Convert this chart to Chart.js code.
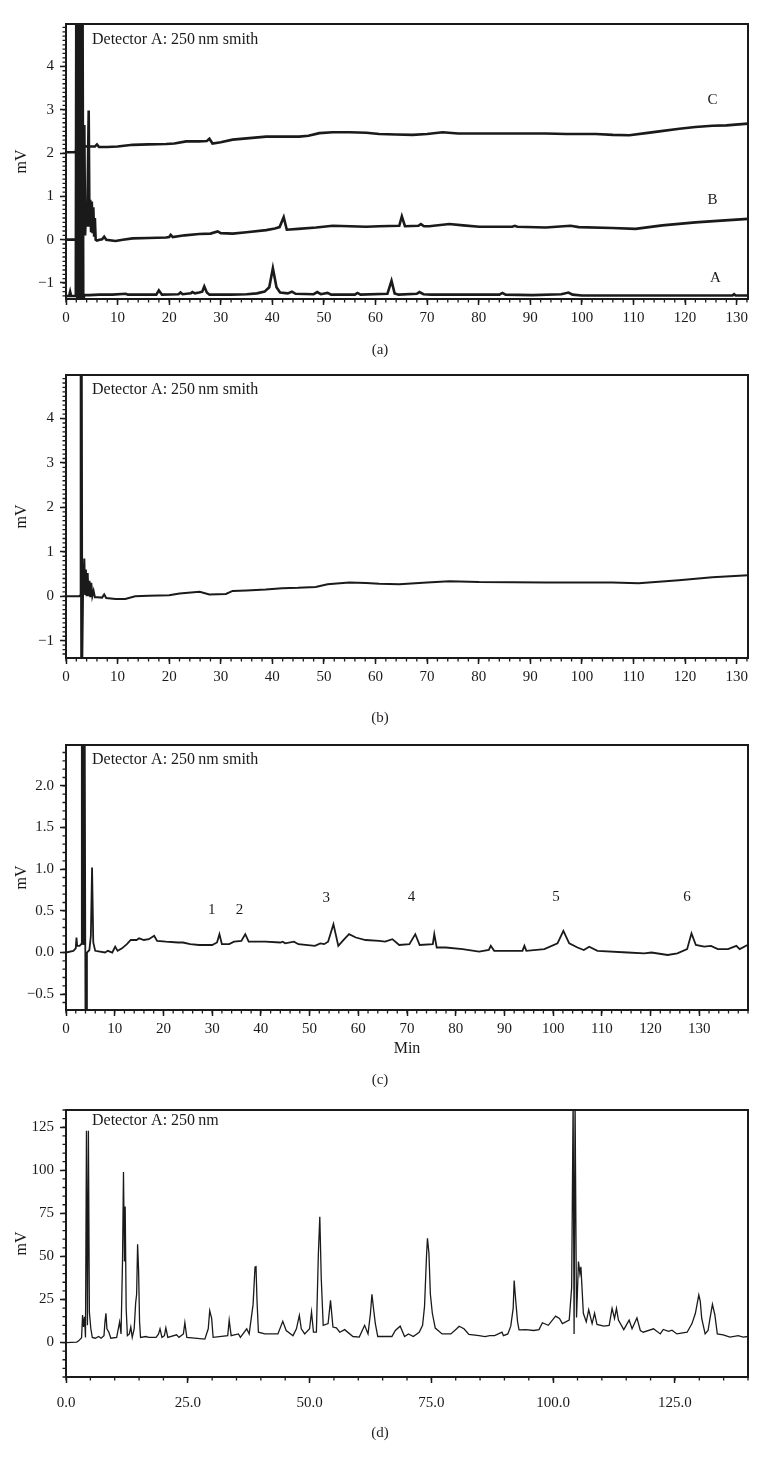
<!DOCTYPE html>
<html>
<head>
<meta charset="utf-8">
<script src="https://cdn.jsdelivr.net/npm/chart.js@4.4.0/dist/chart.umd.min.js"></script>
<style>
  body { margin: 0; background: #fff; width: 760px; height: 1467px; position: relative; overflow: hidden; }
  canvas { position: absolute; left: 0; }
  .panel-label { position: absolute; left: 0; width: 760px; text-align: center; font: 15px 'Liberation Serif', serif; color: #231f20; will-change: transform; }
</style>
</head>
<body>
<canvas id="chartA" width="760" height="335" style="top:0px"></canvas>
<canvas id="chartB" width="760" height="334" style="top:360px"></canvas>
<canvas id="chartC" width="760" height="330" style="top:730px"></canvas>
<canvas id="chartD" width="760" height="322" style="top:1095px"></canvas>
<div class="panel-label" style="top:341px">(a)</div>
<div class="panel-label" style="top:709px">(b)</div>
<div class="panel-label" style="top:1071px">(c)</div>
<div class="panel-label" style="top:1424px">(d)</div>
<script>
// retention time (min), signal (mV) pairs

// panel (a): three stacked runs
const traceA = [[0,-1.3],[0.6,-1.3],[0.8,-1.2],[1.0,-1.3],[1.9,-1.3],[2.0,6],[2.2,-1.5],[2.4,6],[2.6,-1.5],[2.8,6],[3.0,-1.5],[3.2,6],[3.35,-1.5],[3.5,-1.28],[4.5,-1.28],[6.5,-1.27],[9,-1.27],[11.6,-1.25],[12,-1.27],[17.5,-1.27],[18,-1.17],[18.6,-1.27],[21.8,-1.26],[22.2,-1.22],[22.6,-1.26],[24.2,-1.24],[24.5,-1.21],[25,-1.24],[25.8,-1.22],[26.4,-1.2],[26.8,-1.08],[27.3,-1.22],[27.8,-1.27],[32,-1.27],[35,-1.26],[37,-1.24],[38.5,-1.2],[39.4,-1.1],[40.1,-0.66],[40.8,-1.1],[41.5,-1.22],[43,-1.24],[43.8,-1.2],[44.5,-1.25],[48,-1.26],[48.7,-1.21],[49.4,-1.26],[50.7,-1.23],[51.4,-1.27],[56,-1.27],[56.5,-1.23],[57.1,-1.27],[62.3,-1.25],[63.1,-0.95],[63.7,-1.24],[64.5,-1.27],[68,-1.25],[68.5,-1.21],[69.3,-1.26],[70.8,-1.27],[84,-1.27],[84.6,-1.23],[85.2,-1.27],[90.4,-1.28],[96,-1.26],[97.4,-1.22],[98.2,-1.27],[100,-1.29],[106,-1.29],[115,-1.29],[125,-1.29],[129.2,-1.29],[129.5,-1.26],[129.8,-1.29],[132.2,-1.29]];
const traceB = [[0,0.0],[2.3,0.0],[2.5,0.02],[3.05,-0.9],[3.3,0.3],[3.55,2.65],[3.7,0.1],[3.9,0.75],[4.1,0.3],[4.4,2.98],[4.55,0.3],[4.7,0.92],[4.85,0.2],[5.0,0.88],[5.15,0.15],[5.3,0.75],[5.45,0.1],[5.6,0.5],[5.75,0.0],[6.0,-0.02],[6.5,0.0],[7.0,0.01],[7.4,0.07],[7.8,0.0],[9.6,-0.03],[11,0.0],[12.9,0.03],[16,0.04],[19.4,0.05],[20.0,0.06],[20.3,0.11],[20.7,0.06],[23,0.1],[25.8,0.13],[28,0.14],[29.4,0.19],[30,0.15],[32.3,0.14],[35,0.17],[38.8,0.22],[40.5,0.26],[41.4,0.29],[42.2,0.52],[42.8,0.23],[45,0.25],[48.5,0.28],[51.7,0.32],[55,0.31],[58.2,0.3],[60.7,0.31],[64.6,0.32],[65.1,0.54],[65.7,0.31],[68.3,0.32],[68.8,0.36],[69.4,0.31],[70.4,0.31],[74.3,0.36],[77,0.33],[80.1,0.3],[86.5,0.3],[87,0.32],[87.5,0.3],[93,0.28],[97.8,0.32],[99.4,0.29],[105.9,0.27],[110.4,0.25],[115.6,0.33],[122,0.4],[127,0.44],[132.2,0.48]];
const traceC = [[0,2.02],[1.9,2.02],[2.05,2.15],[3.0,2.18],[4.0,2.15],[5.0,2.15],[5.6,2.15],[6.0,2.2],[6.4,2.14],[8,2.14],[10,2.15],[12.9,2.19],[16,2.2],[19.4,2.21],[21,2.22],[23.3,2.27],[25.8,2.27],[27.3,2.28],[27.8,2.33],[28.4,2.22],[30,2.25],[32.3,2.31],[35,2.34],[38.8,2.38],[42,2.38],[45.2,2.38],[47,2.4],[49.1,2.46],[51.7,2.48],[55,2.48],[58.2,2.47],[60.7,2.44],[64,2.43],[67.2,2.42],[70,2.44],[73,2.48],[76,2.45],[80,2.45],[85,2.45],[90,2.45],[93,2.45],[97,2.44],[102.7,2.44],[106,2.42],[109.2,2.41],[112.4,2.46],[115,2.5],[118.9,2.56],[122,2.6],[125.3,2.63],[128,2.64],[132.2,2.68]];

// panel (b): blank run
const traceBlank = [[0,0],[2.6,0],[2.75,0.02],[2.85,5.5],[2.95,-1.5],[3.05,5.5],[3.15,-1.5],[3.3,0.1],[3.55,0.85],[3.7,0.05],[3.85,0.6],[4.0,0.0],[4.2,0.52],[4.35,0.0],[4.55,0.35],[4.7,-0.02],[4.9,0.3],[5.1,0.0],[5.35,0.12],[5.6,-0.02],[6.0,-0.02],[7.0,-0.03],[7.4,0.04],[7.8,-0.04],[9.6,-0.06],[11.5,-0.06],[13.4,0.0],[16,0.01],[20,0.02],[22,0.06],[25.9,0.1],[27.8,0.04],[31,0.05],[32.3,0.12],[35,0.13],[38.7,0.15],[41.9,0.18],[45,0.19],[48.4,0.21],[50.7,0.27],[54.9,0.31],[58.2,0.3],[60.7,0.28],[64.6,0.27],[70,0.31],[74.3,0.34],[80.1,0.32],[93,0.31],[99.4,0.31],[105.9,0.31],[111,0.29],[118.8,0.36],[125.3,0.43],[132.2,0.47]];

// panel (c): sample with peaks 1-6
const traceSample = [[0,0.0],[1.5,0.02],[2.0,0.05],[2.15,0.18],[2.3,0.08],[2.8,0.08],[3.1,0.1],[3.25,2.6],[3.4,0.1],[3.55,2.6],[3.7,0.1],[3.85,2.6],[4.0,-0.8],[4.2,-0.8],[4.3,0.0],[4.8,0.03],[5.1,0.2],[5.35,1.02],[5.6,0.12],[6.0,0.02],[8,0.0],[8.6,0.02],[9.5,0.0],[10.1,0.07],[10.6,0.02],[11.5,0.05],[12.5,0.1],[13.3,0.15],[14.5,0.15],[15,0.17],[16,0.15],[17,0.16],[18.1,0.2],[18.7,0.14],[20.5,0.13],[23,0.12],[24,0.12],[25.5,0.1],[27.3,0.09],[30,0.09],[31.0,0.12],[31.5,0.22],[32.0,0.1],[33.5,0.1],[34.5,0.13],[36.0,0.14],[36.8,0.22],[37.5,0.13],[40.9,0.13],[44,0.12],[44.5,0.13],[45,0.11],[46.8,0.13],[47.7,0.1],[51.1,0.08],[52.2,0.11],[53.0,0.1],[53.8,0.13],[54.9,0.34],[55.9,0.08],[56.8,0.14],[58.1,0.22],[59.5,0.18],[61.5,0.15],[64.3,0.14],[65.5,0.13],[67.0,0.16],[68.4,0.09],[70.5,0.1],[71.7,0.22],[72.6,0.09],[75.3,0.1],[75.6,0.22],[76.1,0.06],[78,0.06],[81.4,0.04],[84.8,0.01],[86.8,0.03],[87.2,0.08],[87.9,0.02],[93.7,0.02],[94.1,0.08],[94.5,0.02],[98.2,0.04],[100.9,0.11],[102.1,0.26],[103.3,0.11],[105,0.06],[106.3,0.03],[107.4,0.07],[109.1,0.02],[115.3,0.0],[118.7,-0.01],[120.2,0.0],[123.5,-0.03],[125.5,-0.01],[127.5,0.04],[128.4,0.23],[129.3,0.09],[131,0.07],[132.4,0.08],[133.8,0.04],[135.9,0.04],[137.6,0.08],[138.3,0.04],[139.9,0.09]];
const peakNames = ['1','2','3','4','5','6'];
const peakLabelX = [29.9, 35.6, 53.4, 70.9, 100.6, 127.5];
const peakLabelY = [0.51, 0.51, 0.65, 0.66, 0.66, 0.66];

// panel (d): reference extract
const traceExtract = [[0,0],[2.2,0.3],[2.6,1],[3.2,2.8],[3.4,16],[3.6,9],[3.8,15],[4.0,3],[4.2,123],[4.4,10],[4.6,123],[4.8,17.5],[5.1,8],[5.4,3],[6,2.5],[6.7,3.5],[7.2,2.5],[7.8,4],[8.0,12],[8.2,17],[8.4,8],[8.8,6],[9.2,2.5],[10.4,3],[10.8,9],[11.0,12],[11.3,5],[11.6,47],[11.8,99],[12.0,47],[12.15,79],[12.35,20],[12.6,4],[13.0,5],[13.3,9],[13.6,3],[14.0,8],[14.3,23],[14.5,28],[14.7,57],[14.9,42],[15.1,12],[15.3,3],[16.4,3.5],[17,3],[18.5,3],[19.0,5],[19.3,8],[19.7,3],[20.2,4],[20.5,8.5],[20.9,3],[22.7,4.5],[23.2,3],[24.1,5],[24.4,11.5],[24.8,3],[28.5,2],[29.2,8],[29.5,18.5],[29.9,14],[30.2,3],[33.2,4],[33.5,13],[33.9,4],[35.4,5],[35.8,3],[37.1,8],[37.6,5],[38.4,22],[38.8,43.7],[39.0,44.5],[39.2,25],[39.5,6],[40.8,5],[43.5,5],[44.5,12.3],[45.2,7],[46.6,4],[47.3,8],[47.9,15.8],[48.3,8],[49,5],[50.0,8],[50.4,17.8],[50.8,6],[51.4,6],[51.8,51],[52.1,73],[52.4,37],[52.8,10],[53.8,11],[54.3,24.5],[54.8,9],[55.5,8.5],[56.2,6],[57.2,7.5],[58.9,3.5],[60.2,3.2],[61.3,10],[62,5],[62.5,17],[62.8,28],[63.2,18],[63.5,11],[64,3.5],[66.9,3.5],[67.6,7],[68.6,9.5],[69.5,3.5],[70.3,5],[71.3,3.5],[72.5,6],[73.2,10],[73.6,21],[74.0,50],[74.2,60.5],[74.5,52],[74.8,28],[75.2,17],[75.8,8.4],[77.2,5],[79,5],[80.2,8],[80.7,9.5],[81.7,8],[82.7,4.7],[84.8,4],[86,3.5],[87,4],[88,4],[89.5,6],[89.8,4],[90.7,5],[91.3,9.5],[91.8,20],[92.0,36],[92.3,25],[92.7,12],[93,7.4],[94.4,7.5],[96,7],[97.1,7.5],[97.8,11.5],[99,10],[100.5,15.3],[101.3,14],[101.9,11],[103.3,13],[103.8,32],[104.1,140],[104.3,5],[104.5,140],[104.8,14.6],[105.2,47],[105.5,40],[105.7,44],[106.2,17],[106.8,12],[107.3,19],[108,11],[108.5,17],[109,10.5],[110.4,9.5],[111.5,10],[112.1,19.8],[112.6,14],[113.0,19.8],[113.4,13],[114.5,7.5],[115.6,13],[116.2,8],[117.2,14.3],[117.9,7],[118.5,6],[120.6,8],[122,5],[122.6,7.6],[123.7,6.5],[124.4,7.2],[125.4,5],[127.5,6],[128.5,11],[129.2,17],[129.9,27.6],[130.2,24],[130.5,14],[131.2,5],[131.8,7],[132.2,14],[132.7,22.2],[133.2,16],[133.7,5],[134.9,4.5],[136.3,3.2],[138,4],[139,3.2],[140,3.5]];

// tick labels
const xTicksAB = [0,10,20,30,40,50,60,70,80,90,100,110,120,130];
const yTicksAB = [-1,0,1,2,3,4];
const xTicksC = [0,10,20,30,40,50,60,70,80,90,100,110,120,130];
const yTicksC = [-0.5,0,0.5,1,1.5,2];
const xTicksD = [0,25,50,75,100,125];
const yTicksD = [0,25,50,75,100,125];

const serif = "'Liberation Serif', 'DejaVu Serif', serif";
const ink = '#1a1a1a';
Chart.defaults.font.family = serif;
Chart.defaults.color = ink;

const minus = s => String(s).replace('-', '\u2212');

// box frame, minor ticks and the text drawn inside the plot
function framePlugin(cfg) {
    return {
        id: 'frame',
        afterDraw(chart) {
            const ctx = chart.ctx;
            const a = chart.chartArea;
            const xs = chart.scales.x, ys = chart.scales.y;
            ctx.save();
            ctx.strokeStyle = ink;
            ctx.lineWidth = 2;
            ctx.strokeRect(a.left, a.top, a.right - a.left, a.bottom - a.top);

            ctx.lineWidth = 1.3;
            ctx.beginPath();
            const n1 = Math.ceil(xs.min / cfg.minorX - 1e-6), n2 = Math.floor(xs.max / cfg.minorX + 1e-6);
            for (let i = n1; i <= n2; i++) {
                const px = xs.getPixelForValue(i * cfg.minorX);
                ctx.moveTo(px, a.bottom);
                ctx.lineTo(px, a.bottom + 3.5);
            }
            const m1 = Math.ceil(ys.min / cfg.minorY - 1e-6), m2 = Math.floor(ys.max / cfg.minorY + 1e-6);
            for (let i = m1; i <= m2; i++) {
                const py = ys.getPixelForValue(i * cfg.minorY);
                ctx.moveTo(a.left, py);
                ctx.lineTo(a.left - 3.5, py);
            }
            ctx.stroke();

            ctx.fillStyle = ink;
            ctx.textBaseline = 'middle';
            ctx.textAlign = 'left';
            ctx.font = '16px ' + serif;
            ctx.fillText(cfg.header, a.left + 26, a.top + cfg.headerDy);

            ctx.textAlign = 'center';
            ctx.font = '15px ' + serif;
            (cfg.notes || []).forEach(n => {
                ctx.fillText(n.text, xs.getPixelForValue(n.x), ys.getPixelForValue(n.y));
            });
            ctx.restore();
        }
    };
}

function makePanel(id, traces, cfg) {
    return new Chart(document.getElementById(id), {
        type: 'line',
        data: {
            datasets: traces.map(t => ({
                data: t.points.map(p => ({ x: p[0], y: p[1] })),
                borderColor: ink,
                borderWidth: t.width,
                pointRadius: 0,
                tension: 0,
                fill: false
            }))
        },
        options: {
            responsive: false,
            animation: false,
            devicePixelRatio: 1,
            layout: { padding: { left: 10, right: 12, top: cfg.padTop, bottom: 0 } },
            plugins: { legend: { display: false }, tooltip: { enabled: false } },
            scales: {
                x: {
                    type: 'linear',
                    min: cfg.xMin, max: cfg.xMax,
                    afterBuildTicks: s => { s.ticks = cfg.xTicks.map(v => ({ value: v })); },
                    afterFit: s => { s.height = cfg.xAxisH; },
                    border: { display: false },
                    grid: { drawOnChartArea: false, drawTicks: true, tickLength: 6, tickWidth: 1.5, tickColor: ink },
                    ticks: { autoSkip: false, maxRotation: 0, padding: cfg.xPad, font: { size: 15 }, callback: cfg.xFmt },
                    title: { display: !!cfg.xTitle, text: cfg.xTitle || '', font: { size: 16 }, padding: { top: 0, bottom: 2 } }
                },
                y: {
                    min: cfg.yMin, max: cfg.yMax,
                    afterBuildTicks: s => { s.ticks = cfg.yTicks.map(v => ({ value: v })); },
                    afterFit: s => { s.width = 56; },
                    border: { display: false },
                    grid: { drawOnChartArea: false, drawTicks: true, tickLength: 6, tickWidth: 1.5, tickColor: ink },
                    ticks: { autoSkip: false, padding: 6, font: { size: 15 }, callback: cfg.yFmt },
                    title: { display: true, text: 'mV', font: { size: 16 }, padding: { top: 2, bottom: 0 } }
                }
            }
        },
        plugins: [framePlugin(cfg)]
    });
}

makePanel('chartA', [
    { points: traceC, width: 2.6 },
    { points: traceB, width: 2.6 },
    { points: traceA, width: 2.6 }
], {
    padTop: 24, xAxisH: 36, xMin: 0, xMax: 132.2, yMin: -1.37, yMax: 4.98,
    xTicks: xTicksAB, yTicks: yTicksAB, xPad: 4,
    xFmt: v => String(v), yFmt: v => minus(v),
    minorX: 2, minorY: 0.1,
    header: 'Detector A: 250\u2009nm smith', headerDy: 16,
    notes: [{ text: 'C', x: 125.3, y: 3.23 }, { text: 'B', x: 125.3, y: 0.92 }, { text: 'A', x: 125.9, y: -0.88 }]
});

makePanel('chartB', [
    { points: traceBlank, width: 2 }
], {
    padTop: 13, xAxisH: 36, xMin: 0, xMax: 132.2, yMin: -1.39, yMax: 4.98,
    xTicks: xTicksAB, yTicks: yTicksAB, xPad: 4,
    xFmt: v => String(v), yFmt: v => minus(v),
    minorX: 2, minorY: 0.1,
    header: 'Detector A: 250\u2009nm smith', headerDy: 15
});

makePanel('chartC', [
    { points: traceSample, width: 1.8 }
], {
    padTop: 15, xAxisH: 50, xMin: 0, xMax: 140, yMin: -0.69, yMax: 2.49,
    xTicks: xTicksC, yTicks: yTicksC, xPad: 4, xTitle: 'Min',
    xFmt: v => String(v), yFmt: v => minus(v.toFixed(1)),
    minorX: 2, minorY: 0.1,
    header: 'Detector A: 250\u2009nm smith', headerDy: 15,
    notes: peakNames.map((t, i) => ({ text: t, x: peakLabelX[i], y: peakLabelY[i] }))
});

makePanel('chartD', [
    { points: traceExtract, width: 1.3 }
], {
    padTop: 12, xAxisH: 40, xMin: 0, xMax: 140, yMin: -20, yMax: 135,
    xTicks: xTicksD, yTicks: yTicksD, xPad: 11,
    xFmt: v => v.toFixed(1), yFmt: v => String(v),
    minorX: 5, minorY: 5,
    header: 'Detector A: 250\u2009nm', headerDy: 11
});
</script>
</body>
</html>
